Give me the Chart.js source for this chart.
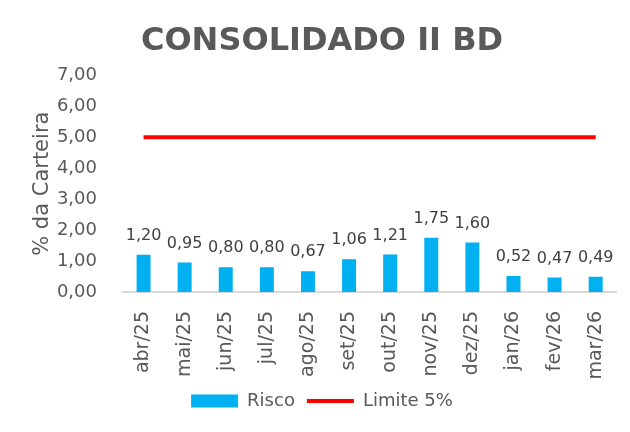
<!DOCTYPE html>
<html>
<head>
<meta charset="utf-8">
<script src="https://cdn.jsdelivr.net/npm/chart.js@4"></script>
<style>
  html, body { margin: 0; padding: 0; background: #fff; }
  #wrap { width: 630px; height: 432px; }
</style>
</head>
<body>
<div id="wrap"><canvas id="risco"></canvas></div>
<script>
var meses = ["abr/25", "mai/25", "jun/25", "jul/25", "ago/25", "set/25", "out/25", "nov/25", "dez/25", "jan/26", "fev/26", "mar/26"];
var risco = [1.20, 0.95, 0.80, 0.80, 0.67, 1.06, 1.21, 1.75, 1.60, 0.52, 0.47, 0.49];
var limite = [5, 5, 5, 5, 5, 5, 5, 5, 5, 5, 5, 5];

var fonte = "'DejaVu Sans', sans-serif";
var cinza = '#595959';

function virgula(v) {
    return v.toFixed(2).replace('.', ',');
}

// labels above the bars
var rotulos = {
    id: 'rotulos',
    afterDatasetsDraw: function (chart) {
        var ctx = chart.ctx;
        var meta = chart.getDatasetMeta(0);
        ctx.save();
        ctx.font = '16px ' + fonte;
        ctx.fillStyle = '#404040';
        ctx.textAlign = 'center';
        ctx.textBaseline = 'bottom';
        meta.data.forEach(function (bar, i) {
            ctx.fillText(virgula(risco[i]), bar.x, bar.y - 11);
        });
        ctx.restore();
    }
};

var ctx = document.getElementById("risco");
var myChart = new Chart(ctx, {
    type: 'bar',
    data: {
        labels: meses,
        datasets: [{
            label: 'Risco',
            data: risco,
            backgroundColor: '#00B0F0',
            borderWidth: 0,
            barPercentage: 0.34,
            categoryPercentage: 1,
            order: 2
        }, {
            type: 'line',
            label: 'Limite 5%',
            data: limite,
            borderColor: '#FF0000',
            backgroundColor: '#FF0000',
            borderWidth: 4,
            pointRadius: 0,
            order: 1
        }]
    },
    options: {
        responsive: true,
        maintainAspectRatio: false,
        animation: false,
        layout: { padding: { left: 26, right: 12, top: 4, bottom: 12 } },
        plugins: {
            title: {
                display: true,
                text: 'CONSOLIDADO II BD',
                color: cinza,
                font: { family: fonte, size: 32, weight: 'bold' },
                padding: { top: 18, bottom: 15 }
            },
            legend: {
                position: 'bottom',
                labels: {
                    color: cinza,
                    font: { family: fonte, size: 18 },
                    usePointStyle: true,
                    pointStyleWidth: 47,
                    boxHeight: 13,
                    padding: 12,
                    sort: function (a, b) { return a.datasetIndex - b.datasetIndex; },
                    generateLabels: function (chart) {
                        var itens = Chart.defaults.plugins.legend.labels.generateLabels(chart);
                        itens.forEach(function (it) {
                            if (it.datasetIndex === 0) {
                                it.pointStyle = 'rect';
                                it.lineWidth = 0;
                            } else {
                                it.pointStyle = 'line';
                                it.lineWidth = 4;
                                it.strokeStyle = '#FF0000';
                            }
                        });
                        return itens;
                    }
                }
            },
            tooltip: { enabled: false }
        },
        scales: {
            x: {
                grid: { display: false },
                border: { color: '#D9D9D9', width: 2 },
                ticks: {
                    color: cinza,
                    font: { family: fonte, size: 19 },
                    padding: 11,
                    minRotation: 90,
                    maxRotation: 90
                },
                afterFit: function (scale) { scale.height = 88; }
            },
            y: {
                min: 0,
                max: 7,
                grid: { display: false },
                border: { display: false },
                ticks: {
                    stepSize: 1,
                    color: cinza,
                    font: { family: fonte, size: 18 },
                    padding: 18,
                    callback: function (v) { return virgula(v); }
                },
                title: {
                    display: true,
                    text: '% da Carteira',
                    color: cinza,
                    font: { family: fonte, size: 21 }
                },
                afterFit: function (scale) { scale.width = 97; }
            }
        }
    },
    plugins: [rotulos]
});
</script>
</body>
</html>
